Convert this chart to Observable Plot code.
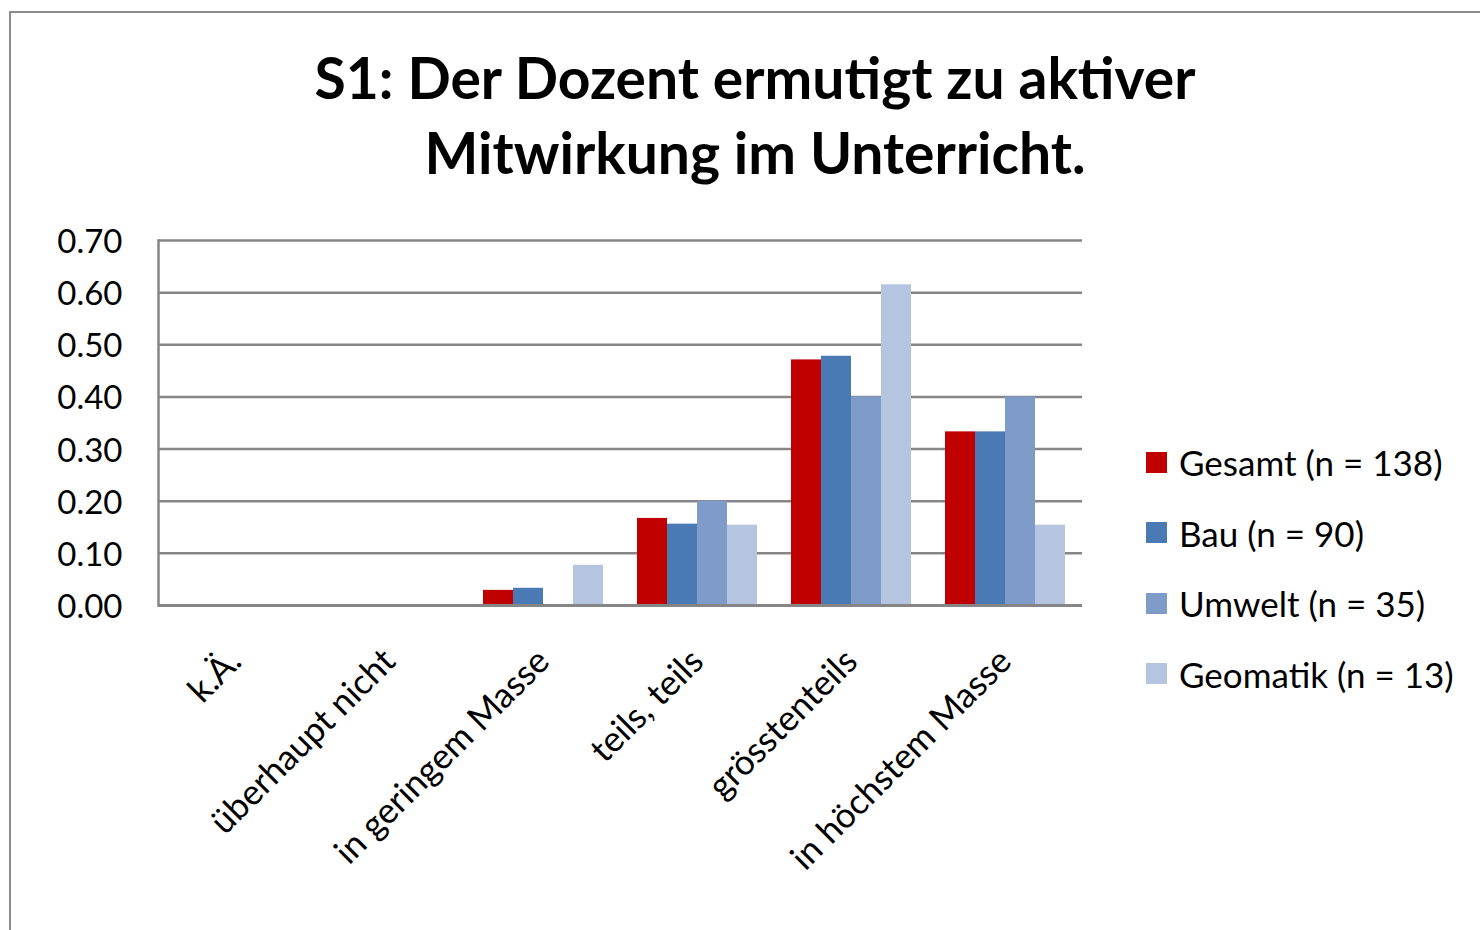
<!DOCTYPE html>
<html>
<head>
<meta charset="utf-8">
<script src="https://cdn.jsdelivr.net/npm/d3@7"></script>
<script src="https://cdn.jsdelivr.net/npm/@observablehq/plot@0.6"></script>
<style>
  html, body { margin: 0; padding: 0; background: #fff; }
  body { width: 1480px; height: 930px; position: relative; overflow: hidden; font-family: Lato, "Open Sans", sans-serif; }
  #border { position: absolute; left: 9px; top: 11px; width: 1600px; height: 1000px; border: 2px solid #8c8c8c; box-sizing: border-box; }
  #title { position: absolute; left: 0; top: 40px; width: 1510px; text-align: center; font-weight: 700; font-size: 57px; line-height: 75px; color: #000; }
  #chart { position: absolute; left: 0; top: 200px; }
  #legend { position: absolute; left: 1146px; top: 427px; }
  .item { display: flex; align-items: center; height: 70.5px; font-size: 35px; color: #000; }
  .sw { width: 21px; height: 21px; margin-right: 12px; }
</style>
</head>
<body>
<div id="border"></div>
<div id="title">S1: Der Dozent ermutigt zu aktiver<br>Mitwirkung im Unterricht.</div>
<div id="chart"></div>
<div id="legend"></div>
<script>
const categories = ["k.Ä.", "überhaupt nicht", "in geringem Masse", "teils, teils", "grösstenteils", "in höchstem Masse"];
const series = ["Gesamt (n = 138)", "Bau (n = 90)", "Umwelt (n = 35)", "Geomatik (n = 13)"];
const gesamt   = [0, 0, 0.029, 0.167, 0.471, 0.333];
const bau      = [0, 0, 0.033, 0.156, 0.478, 0.333];
const umwelt   = [0, 0, 0.000, 0.200, 0.400, 0.400];
const geomatik = [0, 0, 0.077, 0.154, 0.615, 0.154];
const colors = ["#c00000", "#4a7ab4", "#7f9cc8", "#b5c4df"];
const yTicks = [0, 0.1, 0.2, 0.3, 0.4, 0.5, 0.6, 0.7];

const valuesBySeries = [gesamt, bau, umwelt, geomatik];
const data = [];
categories.forEach((c, i) => {
  series.forEach((s, j) => data.push({cat: c, series: s, value: valuesBySeries[j][i]}));
});

const chart = Plot.plot({
  width: 1480,
  height: 730,
  marginLeft: 156,
  marginRight: 397,
  marginTop: 40,
  marginBottom: 325,
  style: {fontFamily: "Lato, 'Open Sans', sans-serif", fontSize: "33px", color: "#000", background: "transparent"},
  fx: {domain: categories, padding: 0, label: null},
  x: {domain: series, paddingInner: 0, paddingOuter: 0.53, axis: null},
  y: {domain: [0, 0.7], label: null},
  color: {domain: series, range: colors},
  marks: [
    Plot.ruleY(yTicks.slice(1), {y: d => d, stroke: "#868686", strokeWidth: 2.5, strokeOpacity: 1}),
    Plot.barY(data, {fx: "cat", x: "series", y: "value", fill: "series"}),
    Plot.ruleY([0], {stroke: "#868686", strokeWidth: 3}),
    Plot.frame({anchor: "left", stroke: "#868686", strokeWidth: 2.5, facetAnchor: "left"}),
    Plot.axisY({ticks: yTicks, tickFormat: d3.format(".2f"), tickSize: 0, tickPadding: 36, fontSize: 33, dy: 2, label: null}),
    Plot.axisFx({anchor: "bottom", tickRotate: -45, tickSize: 0, tickPadding: 50, fontSize: 35, label: null})
  ]
});
document.getElementById("chart").appendChild(chart);

const legend = document.getElementById("legend");
series.forEach((s, j) => {
  const it = document.createElement("div");
  it.className = "item";
  const sw = document.createElement("div");
  sw.className = "sw";
  sw.style.background = colors[j];
  const t = document.createElement("span");
  t.textContent = s;
  it.appendChild(sw); it.appendChild(t);
  legend.appendChild(it);
});
</script>
</body>
</html>
